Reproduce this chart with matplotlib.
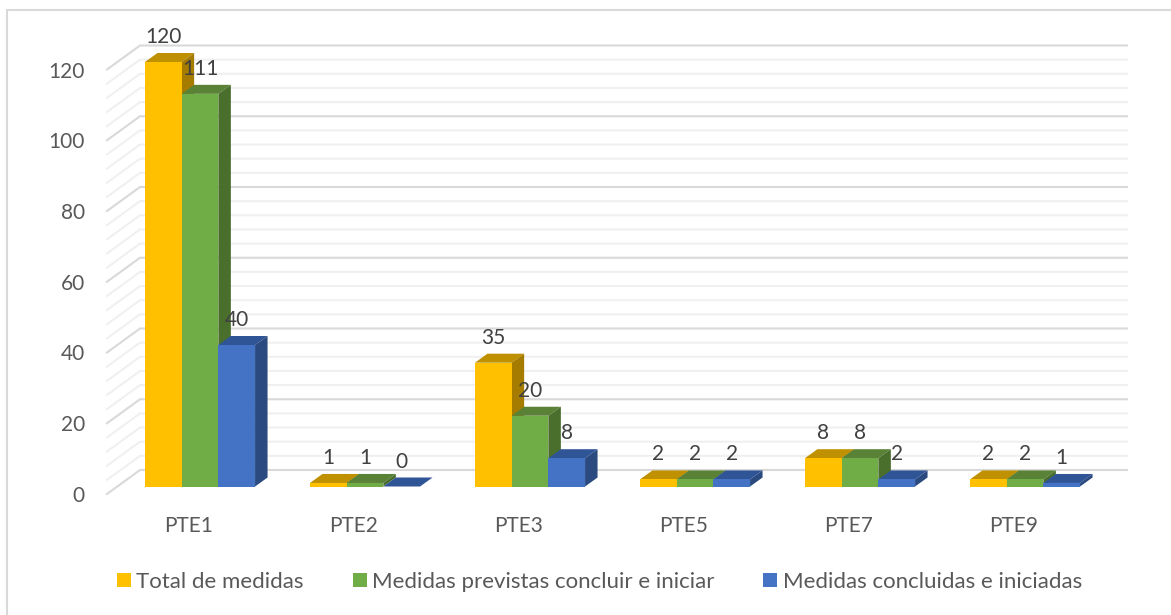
import numpy as np
import matplotlib
matplotlib.use('Agg')
import matplotlib.pyplot as plt
from matplotlib.patches import Patch, Polygon, Rectangle
from matplotlib.transforms import ScaledTranslation

plt.rcParams['font.family'] = ['Lato', 'DejaVu Sans']

categories = ['PTE1', 'PTE2', 'PTE3', 'PTE5', 'PTE7', 'PTE9']
series_names = ['Total de medidas', 'Medidas previstas concluir e iniciar', 'Medidas concluidas e iniciadas']
total = [120, 1, 35, 2, 8, 2]
previstas = [111, 1, 20, 2, 8, 2]
concluidas = [40, 0, 8, 2, 2, 1]
y_ticks = [0, 20, 40, 60, 80, 100, 120]

front = ['#FFC000', '#70AD47', '#4472C4']
top = ['#BF9000', '#5A8237', '#2F5597']
side = ['#A67C00', '#4A6E2C', '#2A4A80']

W, H = 1171, 615
fig = plt.figure(figsize=(W/100, H/100), dpi=100)

# pixel layout of the plot, y=0 sits at 486.5 and y=120 at 62
px_per_unit = 424.5/120
px_per_cat = 165
left, right, bottom, upper = 107, 1140, 494, 30
ax = fig.add_axes([left/W, 1 - bottom/H, (right - left)/W, (bottom - upper)/H])
ax.set_xlim((left - 200)/px_per_cat, (right - 200)/px_per_cat)
ax.set_ylim((486.5 - bottom)/px_per_unit, (486.5 - upper)/px_per_unit)
ax.patch.set_visible(False)
for s in ax.spines.values():
    s.set_visible(False)

# depth of the bars and of the walls, in data units
dx = 12.5/px_per_cat
dy = 9/px_per_unit
wall_x0 = (107 - 200)/px_per_cat
wall_x1 = (140 - 200)/px_per_cat
wall_x2 = (1127 - 200)/px_per_cat
wall_dy = 16.5/px_per_unit
wall_front = -7.5/px_per_unit

# gridlines on the back wall and the side wall
for v in np.arange(0, 121, 4):
    major = v % 20 == 0
    col = '#D9D9D9' if major else '#F0F0F0'
    ax.plot([wall_x0, wall_x1, wall_x2], [v + wall_front, v + wall_dy, v + wall_dy],
            color=col, lw=1.5, zorder=1, solid_joinstyle='miter', clip_on=False)

# fake 3d bars
bar_w = 36.7/px_per_cat
series = [total, previstas, concluidas]
for i in range(len(categories)):
    for j in range(3):
        v = series[j][i]
        x0 = i + (j - 1.5)*bar_w
        z = 3 + i*10 + j*3
        ax.bar(x0, v, bar_w, align='edge', color=front[j], zorder=z + 2)
        ax.add_patch(Polygon([[x0, v], [x0 + dx, v + dy], [x0 + bar_w + dx, v + dy], [x0 + bar_w, v]],
                             closed=True, fc=top[j], ec='none', zorder=z))
        ax.add_patch(Polygon([[x0 + bar_w, 0], [x0 + bar_w + dx, dy], [x0 + bar_w + dx, v + dy], [x0 + bar_w, v]],
                             closed=True, fc=side[j], ec='none', zorder=z + 1))
        ax.annotate(str(v), (x0 + bar_w/2, v), xytext=(0, 25*0.72), textcoords='offset points',
                    ha='center', va='center', fontsize=15, color='#404040', zorder=200)

ax.set_xticks(range(len(categories)))
ax.set_xticklabels(categories, fontsize=15, color='#595959')
ax.set_yticks(y_ticks)
ax.set_yticklabels([str(v) for v in y_ticks], fontsize=15, color='#595959')
ax.tick_params(axis='both', length=0)
ax.tick_params(axis='x', pad=16)
ax.tick_params(axis='y', pad=16)
for t in ax.get_yticklabels():
    t.set_transform(t.get_transform() + ScaledTranslation(0, -7.5/100, fig.dpi_scale_trans))
for t in ax.get_xticklabels():
    t.set_transform(t.get_transform() + ScaledTranslation(-11/100, 0, fig.dpi_scale_trans))

handles = [Patch(fc=c, ec='none') for c in front]
fig.legend(handles, series_names, ncol=3, frameon=False, fontsize=16, labelcolor='#595959',
           loc='center left', bbox_to_anchor=(117/W, 1 - 582/H),
           handlelength=0.63, handleheight=0.63, handletextpad=0.24, columnspacing=2.2, borderpad=0, borderaxespad=0)

# chart border
fig.add_artist(Rectangle((7/W, -0.05), 1.2, 1 - 10/H + 0.05, transform=fig.transFigure,
                         fc='none', ec='#D9D9D9', lw=1.5))

fig.savefig('out.png', dpi=100)
